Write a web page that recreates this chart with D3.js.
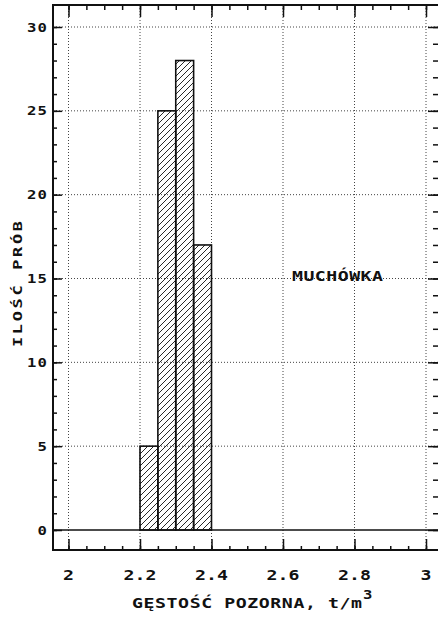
<!DOCTYPE html>
<html><head><meta charset="utf-8">
<script src="https://cdn.jsdelivr.net/npm/d3@7"></script>
<style>html,body{margin:0;padding:0;background:#fff;overflow:hidden}</style>
</head><body>
<script>
// ---- data ----
const binLeft = [2.2, 2.25, 2.3, 2.35];
const binRight = [2.25, 2.3, 2.35, 2.4];
const counts = [5, 25, 28, 17];
const xMajorTicks = [2, 2.2, 2.4, 2.6, 2.8, 3];
const xTickLabels = ["2", "2.2", "2.4", "2.6", "2.8", "3"];
const yMajorTicks = [0, 5, 10, 15, 20, 25, 30];
const yTickLabels = ["0", "5", "10", "15", "20", "25", "30"];
const yTitle = "ILOŚĆ PRÓB";
const xTitle = "GĘSTOŚĆ POZORNA, t/m";
const xTitleSup = "3";
const annotation = "MUCHÓWKA";

// ---- layout ----
const W = 438, H = 618;
const frame = {left: 53, top: 5, right: 442, bottom: 550};
const x = d3.scaleLinear().domain([2, 3]).range([68.5, 426]);
const y = d3.scaleLinear().domain([0, 30]).range([530, 27]);
const font = "'DejaVu Sans Mono', 'Liberation Mono', monospace";

const svg = d3.select("body").append("svg").attr("width", W).attr("height", H);

// wide "plotter" text helper
function wideText(str, px, py, opts) {
  const o = Object.assign({size: 13, sx: 1.3, anchor: "start", rot: 0, len: null}, opts);
  const t = svg.append("text")
    .attr("transform", `translate(${px},${py}) rotate(${o.rot}) scale(${o.sx},1)`)
    .attr("text-anchor", o.anchor).attr("font-family", font).attr("font-weight", "bold")
    .attr("font-size", o.size).attr("fill", "#111").text(str);
  if (o.len) t.attr("textLength", o.len / o.sx).attr("lengthAdjust", "spacing");
  return t;
}

// hatch pattern
const defs = svg.append("defs");
const pat = defs.append("pattern").attr("id", "hatch").attr("patternUnits", "userSpaceOnUse")
  .attr("width", 6).attr("height", 6);
pat.append("path").attr("d", "M-1,1 L1,-1 M0,6 L6,0 M5,7 L7,5")
  .attr("stroke", "#111").attr("stroke-width", 0.9);

const xMinor = d3.range(0, 21).map(i => 2 + i * 0.05);
const yMinor = d3.range(0, 31);

// grid (dotted)
const grid = svg.append("g").attr("stroke", "#444").attr("stroke-width", 1)
  .attr("stroke-dasharray", "1,2");
grid.selectAll("line.h").data(yMajorTicks.filter(v => v > 0)).join("line")
  .attr("x1", frame.left).attr("x2", frame.right)
  .attr("y1", d => y(d)).attr("y2", d => y(d));
grid.selectAll("line.v").data(xMajorTicks).join("line")
  .attr("y1", frame.top).attr("y2", frame.bottom)
  .attr("x1", d => x(d)).attr("x2", d => x(d));

// bars
const bars = binLeft.map((b, i) => ({x0: b, x1: binRight[i], v: counts[i]}));
svg.append("g").selectAll("rect").data(bars).join("rect")
  .attr("x", d => x(d.x0)).attr("width", d => x(d.x1) - x(d.x0))
  .attr("y", d => y(d.v)).attr("height", d => y(0) - y(d.v))
  .attr("fill", "url(#hatch)").attr("stroke", "#111").attr("stroke-width", 1.6);

// zero line
svg.append("line").attr("x1", frame.left).attr("x2", frame.right)
  .attr("y1", y(0)).attr("y2", y(0)).attr("stroke", "#111").attr("stroke-width", 1.5);

// axes (ticks inward)
function styleAxis(g) {
  g.select(".domain").remove();
  g.selectAll(".tick line").attr("stroke", "#111").attr("stroke-width", 1.5);
  g.selectAll(".tick text").remove();
}
svg.append("g").attr("transform", `translate(${frame.left},0)`)
  .call(d3.axisRight(y).tickValues(yMinor).tickSize(4)).call(styleAxis);
svg.append("g").attr("transform", `translate(${frame.left},0)`)
  .call(d3.axisRight(y).tickValues(yMajorTicks).tickSize(9)).call(styleAxis);
svg.append("g").attr("transform", `translate(${frame.right},0)`)
  .call(d3.axisLeft(y).tickValues(yMinor).tickSize(9)).call(styleAxis);
svg.append("g").attr("transform", `translate(${frame.right},0)`)
  .call(d3.axisLeft(y).tickValues(yMajorTicks).tickSize(14)).call(styleAxis);
svg.append("g").attr("transform", `translate(0,${frame.top})`)
  .call(d3.axisBottom(x).tickValues(xMinor).tickSize(5)).call(styleAxis);
svg.append("g").attr("transform", `translate(0,${frame.top})`)
  .call(d3.axisBottom(x).tickValues(xMajorTicks).tickSize(12)).call(styleAxis);
svg.append("g").attr("transform", `translate(0,${frame.bottom})`)
  .call(d3.axisTop(x).tickValues(xMinor).tickSize(4)).call(styleAxis);
svg.append("g").attr("transform", `translate(0,${frame.bottom})`)
  .call(d3.axisTop(x).tickValues(xMajorTicks).tickSize(11)).call(styleAxis);

// frame
svg.append("rect").attr("x", frame.left).attr("y", frame.top)
  .attr("width", frame.right - frame.left).attr("height", frame.bottom - frame.top)
  .attr("fill", "none").attr("stroke", "#111").attr("stroke-width", 2);

// y tick labels
yMajorTicks.forEach((v, i) => {
  const s = yTickLabels[i];
  wideText(s, 47, y(v) + 4.5, {size: 12.5, sx: 1.25, anchor: "end", len: s.length > 1 ? 20 : null});
});

// x tick labels
xMajorTicks.forEach((v, i) => {
  const s = xTickLabels[i];
  wideText(s, x(v), 580, {size: 14, sx: 1.3, anchor: "middle", len: s.length > 1 ? 33 : null});
});

// x title
wideText(xTitle, 132, 608, {size: 14, sx: 1.3, len: 230});
wideText(xTitleSup, 363, 599, {size: 13, sx: 1.2});

// y title
wideText(yTitle, 22, 284, {size: 13, sx: 1.3, anchor: "middle", rot: -90, len: 126});

// annotation
wideText(annotation, 292, 281, {size: 14, sx: 1.3, len: 91});
</script>
</body></html>
